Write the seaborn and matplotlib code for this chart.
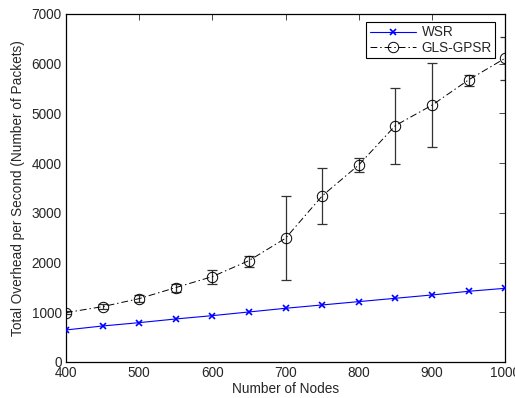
import matplotlib
matplotlib.use("Agg")
import matplotlib.pyplot as plt
import seaborn as sns
import pandas as pd
import numpy as np

nodes = [400, 450, 500, 550, 600, 650, 700, 750, 800, 850, 900, 950, 1000]
wsr = [644, 724, 791, 865, 932, 1006, 1080, 1147, 1214, 1281, 1348, 1422, 1482]
gls = [992, 1113, 1274, 1496, 1717, 2039, 2489, 3340, 3964, 4755, 5165, 5674, 6110]
gls_low = [962, 1063, 1207, 1408, 1563, 1911, 1656, 2783, 3829, 3990, 4320, 5553, 5674]
gls_high = [1022, 1163, 1348, 1576, 1857, 2139, 3346, 3897, 4098, 5519, 6016, 5781, 6545]

sns.set_style("white")
plt.rcParams['font.family'] = ['Liberation Sans', 'DejaVu Sans']
FS = 9.8
plt.rcParams['font.size'] = FS

fig = plt.figure(figsize=(5.15, 3.98), dpi=100)
ax = fig.add_axes([0.128, 0.0905, 0.853, 0.8745])

df_w = pd.DataFrame({"Nodes": nodes, "Overhead": wsr})
df_g = pd.DataFrame({"Nodes": nodes, "Overhead": gls})

yerr = [np.array(gls) - np.array(gls_low), np.array(gls_high) - np.array(gls)]
ax.errorbar(nodes, gls, yerr=yerr, fmt="none", ecolor="#333333", elinewidth=0.9,
            capsize=3.5, capthick=0.9, zorder=2)

n0 = len(ax.lines)
sns.lineplot(data=df_w, x="Nodes", y="Overhead", ax=ax, label="WSR")
l_w = ax.lines[n0]
l_w.set_color("blue")
l_w.set_linestyle("-")
l_w.set_linewidth(0.8)
l_w.set_marker("x")
l_w.set_markersize(4)
l_w.set_markeredgewidth(1.2)
l_w.set_markeredgecolor("blue")
l_w.set_zorder(3)

n1 = len(ax.lines)
sns.lineplot(data=df_g, x="Nodes", y="Overhead", ax=ax, label="GLS-GPSR")
l_g = ax.lines[n1]
l_g.set_color("black")
l_g.set_linestyle((0, (7, 3, 1.5, 3)))
l_g.set_linewidth(0.7)
l_g.set_marker("o")
l_g.set_markersize(7.5)
l_g.set_markerfacecolor("none")
l_g.set_markeredgecolor("black")
l_g.set_markeredgewidth(0.7)
l_g.set_zorder(3)

ax.set_xlim(400, 1000)
ax.set_ylim(0, 7000)
ax.set_xticks([400, 500, 600, 700, 800, 900, 1000])
ax.set_yticks([0, 1000, 2000, 3000, 4000, 5000, 6000, 7000])
ax.set_xlabel("Number of Nodes", labelpad=1, fontsize=FS)
ax.set_ylabel("Total Overhead per Second (Number of Packets)", labelpad=5, fontsize=FS)
ax.tick_params(direction="in", top=True, right=True, length=4, width=0.6,
               labelsize=FS, pad=3)
for s in ax.spines.values():
    s.set_color("black")
    s.set_linewidth(0.9)

leg = ax.legend(handles=[l_w, l_g], labels=["WSR", "GLS-GPSR"], loc="upper right",
                fancybox=False, edgecolor="black", framealpha=1,
                bbox_to_anchor=(0.977, 0.977), borderaxespad=0.0,
                handlelength=3.4, fontsize=FS, borderpad=0.25,
                labelspacing=0.1, handletextpad=0.4)
leg.get_frame().set_linewidth(0.8)

fig.savefig("out.png", dpi=100)
